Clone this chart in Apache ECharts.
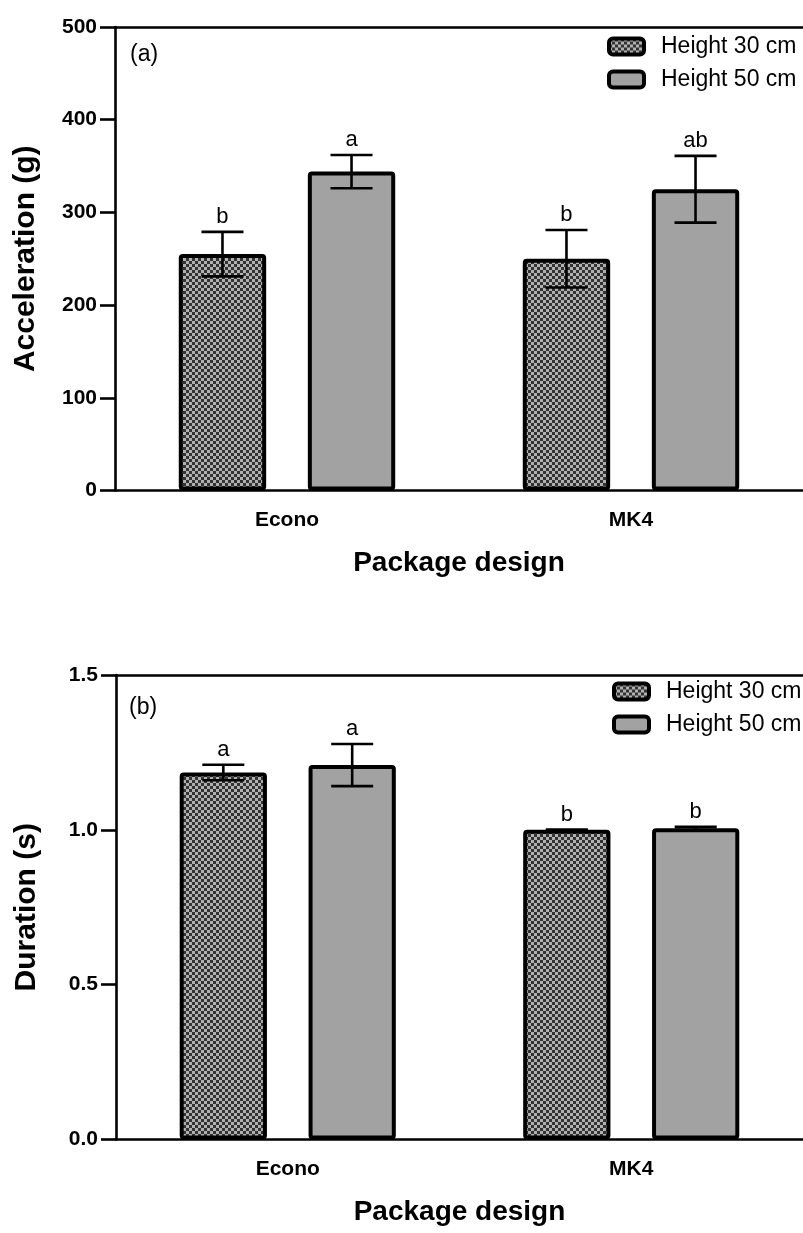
<!DOCTYPE html>
<html>
<head>
<meta charset="utf-8">
<script src="https://cdn.jsdelivr.net/npm/echarts@6/dist/echarts.min.js"></script>
<style>html,body{margin:0;padding:0;background:#fff}#c{width:803px;height:1233px}</style>
</head>
<body>
<div id="c"></div>
<script>
// ---- data ----
const categories = ['Econo', 'MK4'];
const seriesNames = ['Height 30 cm', 'Height 50 cm'];
const yTicksA = [0, 100, 200, 300, 400, 500];
const yTicksB = [0.0, 0.5, 1.0, 1.5];

const accel30 = [255, 250];
const accel30Err = [24, 31];
const accel30Letters = ['b', 'b'];
const accel50 = [344, 325];
const accel50Err = [18, 36];
const accel50Letters = ['a', 'ab'];

const dur30 = [1.185, 1.0];
const dur30Err = [0.025, 0.0];
const dur30Letters = ['a', 'b'];
const dur50 = [1.209, 1.005];
const dur50Err = [0.068, 0.005];
const dur50Letters = ['a', 'b'];

// ---- style ----
const FONT = '"Liberation Sans", Arial, Helvetica, sans-serif';
const BARW = 0.254, GAP = 0.477;

const pc = document.createElement('canvas');
pc.width = 6; pc.height = 6;
const pctx = pc.getContext('2d');
pctx.fillStyle = '#b0b0b0'; pctx.fillRect(0, 0, 6, 6);
pctx.fillStyle = '#333333'; pctx.fillRect(0, 0, 3, 3); pctx.fillRect(3, 3, 3, 3);
const checker = { image: pc, repeat: 'repeat' };

function barStyle(fill) {
  return { color: fill, borderColor: '#000', borderWidth: 4, borderRadius: 2, borderJoin: 'round' };
}

function errSeries(means, errs, letters, sign, xi, yi) {
  return {
    type: 'custom', name: 'err', xAxisIndex: xi, yAxisIndex: yi, z: 5,
    data: means.map((v, i) => [i, v]),
    renderItem: function (params, api) {
      const i = api.value(0);
      const c = api.coord([i, means[i]]);
      const band = api.size([1, 0])[0];
      const x = c[0] + sign * band * BARW * (1 + GAP) / 2;
      const top = api.coord([i, means[i] + errs[i]])[1];
      const bot = api.coord([i, means[i] - errs[i]])[1];
      const cap = 21;
      const ls = { stroke: '#000', lineWidth: 2.6 };
      return {
        type: 'group', children: [
          { type: 'line', shape: { x1: x, y1: top, x2: x, y2: bot }, style: ls },
          { type: 'line', shape: { x1: x - cap, y1: top, x2: x + cap, y2: top }, style: ls },
          { type: 'line', shape: { x1: x - cap, y1: bot, x2: x + cap, y2: bot }, style: ls },
          { type: 'text', x: x, y: top - 4, style: { text: letters[i], fill: '#000', font: '22px ' + FONT, align: 'center', verticalAlign: 'bottom' } }
        ]
      };
    }
  };
}

function xAxisMain(gi) {
  return {
    type: 'category', gridIndex: gi, data: categories, position: 'bottom',
    axisLine: { lineStyle: { color: '#000', width: 2.6 } },
    axisTick: { alignWithLabel: true, length: 12, lineStyle: { color: '#000', width: 2.6 } },
    axisLabel: { color: '#000', fontFamily: FONT, fontWeight: 'bold', fontSize: 21, margin: 19 },
    name: 'Package design', nameLocation: 'middle', nameGap: 59,
    nameTextStyle: { color: '#000', fontFamily: FONT, fontWeight: 'bold', fontSize: 28 }
  };
}
function xAxisTop(gi) {
  return {
    type: 'category', gridIndex: gi, data: categories, position: 'top',
    axisLine: { lineStyle: { color: '#000', width: 2.6 } },
    axisTick: { show: false }, axisLabel: { show: false }
  };
}
function yAxis(gi, ticks, name, fmt) {
  return {
    type: 'value', gridIndex: gi, min: ticks[0], max: ticks[ticks.length - 1],
    interval: ticks[1] - ticks[0],
    axisLine: { show: true, lineStyle: { color: '#000', width: 2.6 } },
    axisTick: { show: true, length: 15, lineStyle: { color: '#000', width: 2.6 } },
    axisLabel: { color: '#000', fontFamily: FONT, fontWeight: 'bold', fontSize: 21, margin: 18, formatter: fmt },
    splitLine: { show: false },
    name: name, nameLocation: 'middle', nameGap: 74, nameRotate: 90,
    nameTextStyle: { color: '#000', fontFamily: FONT, fontWeight: 'bold', fontSize: 30 }
  };
}
function legend(left, top) {
  return {
    data: seriesNames, orient: 'vertical', left: left, top: top,
    itemWidth: 35, itemHeight: 16, itemGap: 10, icon: 'roundRect', padding: 0,
    itemStyle: { borderColor: '#000', borderWidth: 4 },
    textStyle: { color: '#000', fontFamily: FONT, fontSize: 23, padding: [0, 0, 0, 12] },
    selectedMode: false
  };
}

const chart = echarts.init(document.getElementById('c'), null, { renderer: 'canvas' });
chart.setOption({
  animation: false,
  backgroundColor: '#fff',
  grid: [
    { left: 115, top: 27, width: 692, height: 463.5 },
    { left: 116, top: 675, width: 694, height: 464.5 }
  ],
  legend: [legend(607, 35), legend(612, 680)],
  xAxis: [xAxisMain(0), xAxisTop(0), xAxisMain(1), xAxisTop(1)],
  yAxis: [
    yAxis(0, yTicksA, 'Acceleration (g)', v => String(v)),
    yAxis(1, yTicksB, 'Duration (s)', v => v.toFixed(1))
  ],
  graphic: [
    { type: 'text', left: 130, top: 43, style: { text: '(a)', fill: '#000', font: '23px ' + FONT } },
    { type: 'text', left: 129, top: 696, style: { text: '(b)', fill: '#000', font: '23px ' + FONT } }
  ],
  series: [
    { type: 'bar', name: seriesNames[0], xAxisIndex: 0, yAxisIndex: 0, data: accel30, barWidth: (BARW * 100) + '%', barGap: (GAP * 100) + '%', itemStyle: barStyle(checker) },
    { type: 'bar', name: seriesNames[1], xAxisIndex: 0, yAxisIndex: 0, data: accel50, barWidth: (BARW * 100) + '%', barGap: (GAP * 100) + '%', itemStyle: barStyle('#a2a2a2') },
    errSeries(accel30, accel30Err, accel30Letters, -1, 0, 0),
    errSeries(accel50, accel50Err, accel50Letters, 1, 0, 0),
    { type: 'bar', name: seriesNames[0], xAxisIndex: 2, yAxisIndex: 1, data: dur30, barWidth: (BARW * 100) + '%', barGap: (GAP * 100) + '%', itemStyle: barStyle(checker) },
    { type: 'bar', name: seriesNames[1], xAxisIndex: 2, yAxisIndex: 1, data: dur50, barWidth: (BARW * 100) + '%', barGap: (GAP * 100) + '%', itemStyle: barStyle('#a2a2a2') },
    errSeries(dur30, dur30Err, dur30Letters, -1, 2, 1),
    errSeries(dur50, dur50Err, dur50Letters, 1, 2, 1)
  ]
});
</script>
</body>
</html>
